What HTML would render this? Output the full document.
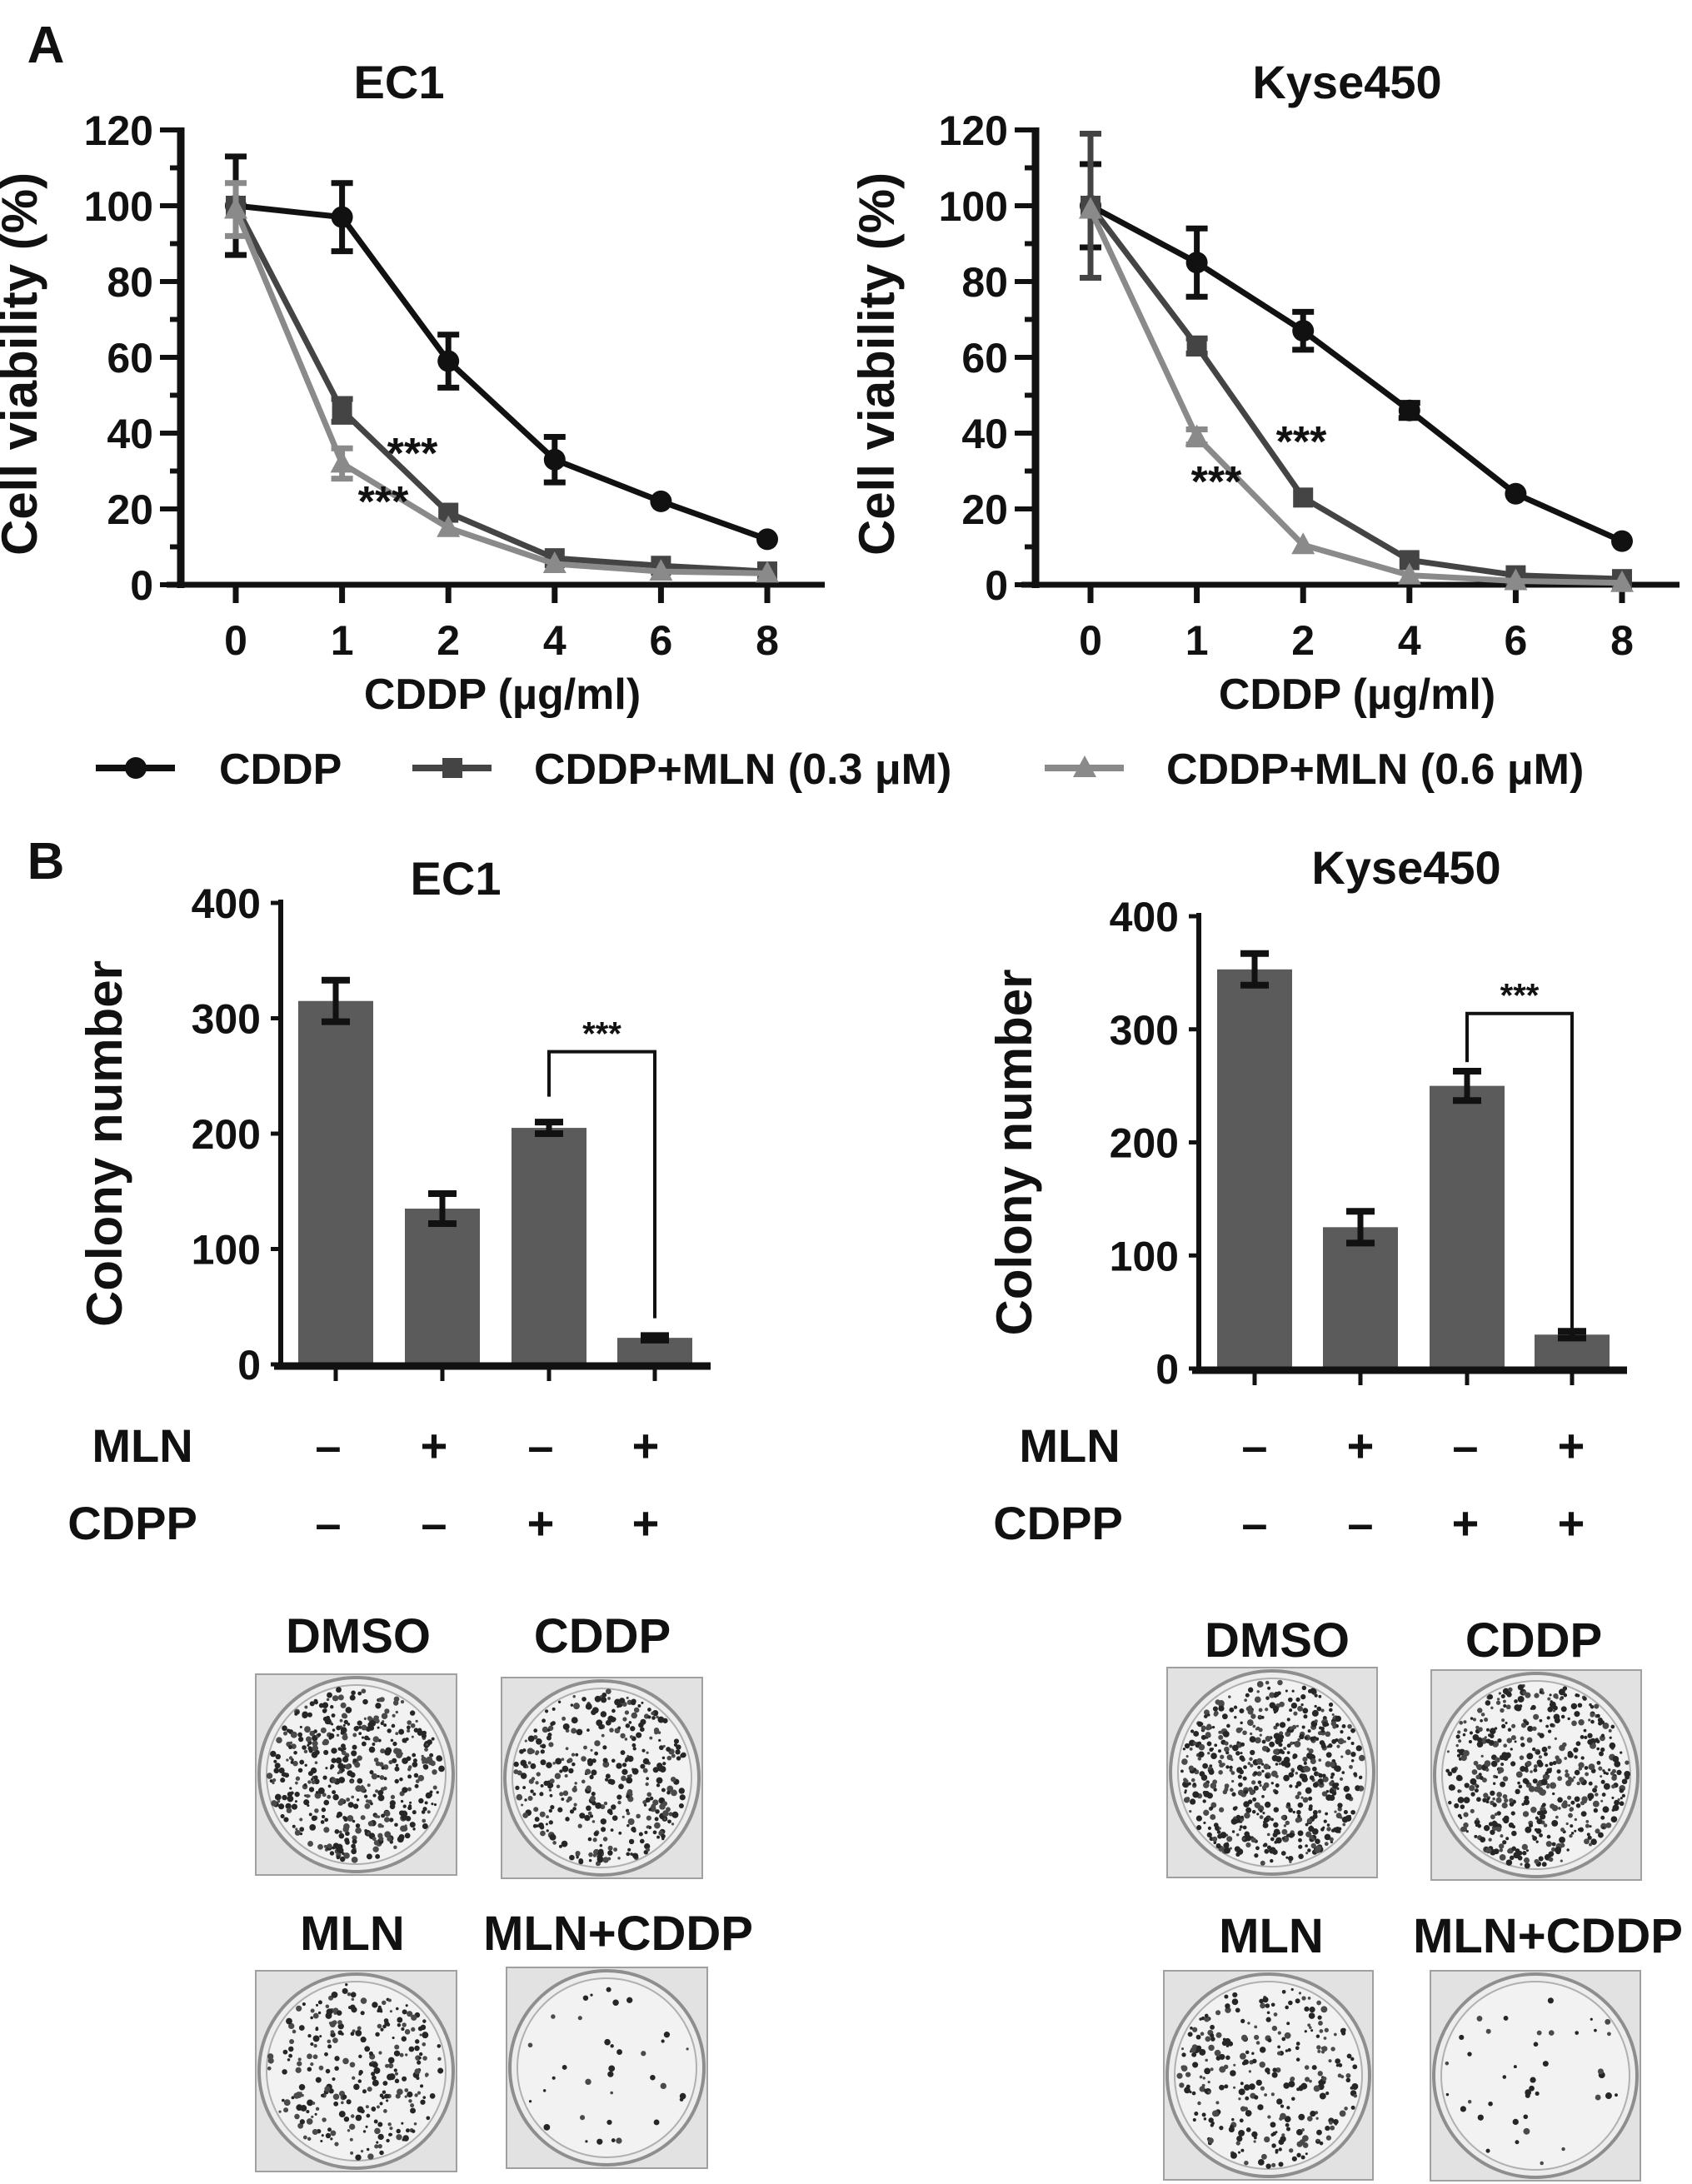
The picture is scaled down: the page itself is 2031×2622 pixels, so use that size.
<!DOCTYPE html>
<html><head><meta charset="utf-8">
<style>
html,body{margin:0;padding:0;background:#fff;}
svg{display:block;}
text{font-family:"Liberation Sans",Arial,sans-serif;font-weight:bold;fill:#111;}
</style></head>
<body>
<svg id="fig" width="2031" height="2622" viewBox="0 0 2031 2622" xmlns="http://www.w3.org/2000/svg">
<text x="55" y="75" font-size="62" text-anchor="middle">A</text>
<text x="55" y="1055" font-size="62" text-anchor="middle">B</text>
<g id="gA1"></g>
<g id="gA2"></g>
<g id="legend"></g>
<g id="gB1"></g>
<g id="gB2"></g>
<g id="plates"></g>
</svg>
<script>
// ---- Panel A data ----
const doseLabels = ["0","1","2","4","6","8"];
const viaTicks = [0,20,40,60,80,100,120];
const ec1Cddp = [100,97,59,33,22,12];
const ec1CddpErr = [13,9,7,6,0,0];
const ec1Mln03 = [100,46,19,7,5,3.5];
const ec1Mln03Err = [0,3,0,0,0,0];
const ec1Mln06 = [99,32,15,5.5,3.5,3];
const ec1Mln06Err = [7,4,0,0,0,0];
const kyCddp = [100,85,67,46,24,11.5];
const kyCddpErr = [11,9,5,2,0,0];
const kyMln03 = [100,63,23,6.5,2.5,1.5];
const kyMln03Err = [19,2,0,0,0,0];
const kyMln06 = [99,39,10.5,2.5,1,0.5];
const kyMln06Err = [0,2,0,0,0,0];
const seriesNames = ["CDDP","CDDP+MLN (0.3 \u03bcM)","CDDP+MLN (0.6 \u03bcM)"];
// ---- Panel B data ----
const mlnRow = ["\u2013","+","\u2013","+"];
const cdppRow = ["\u2013","\u2013","+","+"];
const colTicks = [0,100,200,300,400];
const ec1Colony = [315,135,205,23];
const ec1ColonyErr = [18,13,5,2];
const kyColony = [353,125,250,30];
const kyColonyErr = [14,14,13,3];

const NS="http://www.w3.org/2000/svg";
function mk(parent,tag,attrs){const e=document.createElementNS(NS,tag);for(const k in attrs)e.setAttribute(k,attrs[k]);parent.appendChild(e);return e;}
function txt(parent,x,y,s,size,anchor,extra){const t=mk(parent,'text',Object.assign({x:x,y:y,'font-size':size,'text-anchor':anchor||'middle'},extra||{}));t.textContent=s;return t;}

const colors=["#111111","#444444","#8a8a8a"];

function drawMarker(g,type,x,y,color){
  let m;
  if(type===0){m=mk(g,'circle',{cx:x,cy:y,r:13,fill:color});}
  else if(type===1){m=mk(g,'rect',{x:x-12,y:y-12,width:24,height:24,fill:color});}
  else {m=mk(g,'polygon',{points:`${x},${y-15} ${x+14},${y+11} ${x-14},${y+11}`,fill:color});}
  return m;
}

function viabilityChart(g,ax,title,titleX,yTitleX,series,errs,stars){
  const y0=702,y120=156,xs0=ax+66,dx=127.6,xEnd=ax+773;
  const Y=v=>y0-(v/120)*(y0-y120);
  const X=i=>xs0+i*dx;
  const t=txt(g,titleX,118,title,56);
  
  
  const ya=mk(g,'line',{x1:ax,y1:y120-3,x2:ax,y2:y0+4,stroke:'#111','stroke-width':9});
  
  
  for(let v=0;v<=120;v+=10){
    const major=v%20===0;
    mk(g,'line',{x1:ax-(major?25:13),y1:Y(v),x2:ax,y2:Y(v),stroke:'#111','stroke-width':6});
  }
  viaTicks.forEach(v=>{const l=txt(g,ax-33,Y(v)+18,String(v),50,'end');
    
    });
  const xa=mk(g,'line',{x1:ax-17,y1:y0,x2:xEnd,y2:y0,stroke:'#111','stroke-width':7});
  
  
  doseLabels.forEach((s,i)=>{
    mk(g,'line',{x1:X(i),y1:y0,x2:X(i),y2:y0+22,stroke:'#111','stroke-width':7});
    const l=txt(g,X(i),786,s,50);
    
    
  });
  const xt=txt(g,xs0+320,851,"CDDP (\u00b5g/ml)",52);
  
  
  const yt=txt(g,0,0,"Cell viability (%)",60,'middle',{transform:`translate(${yTitleX},${(y0+y120)/2+8}) rotate(-90)`});
  
  
  series.forEach((vals,si)=>{
    const sg=mk(g,'g',{});
    
    
    const pts=vals.map((v,i)=>X(i)+','+Y(v)).join(' ');
    mk(sg,'polyline',{points:pts,fill:'none',stroke:colors[si],'stroke-width':7,'stroke-linejoin':'round'});
    vals.forEach((v,i)=>{
      const e=errs[si][i];
      if(e>0){
        mk(sg,'line',{x1:X(i),y1:Y(v+e),x2:X(i),y2:Y(v-e),stroke:colors[si],'stroke-width':7});
        mk(sg,'line',{x1:X(i)-13,y1:Y(v+e),x2:X(i)+13,y2:Y(v+e),stroke:colors[si],'stroke-width':7});
        mk(sg,'line',{x1:X(i)-13,y1:Y(v-e),x2:X(i)+13,y2:Y(v-e),stroke:colors[si],'stroke-width':7});
      }
      const m=drawMarker(sg,si,X(i),Y(v),colors[si]);
      
      
    });
  });
  stars.forEach(s=>{const st=txt(g,s[0],s[1],"***",52,'middle',{'font-weight':'normal'});
    
    });
}

viabilityChart(document.getElementById('gA1'),217,"EC1",479,44,[ec1Cddp,ec1Mln03,ec1Mln06],[ec1CddpErr,ec1Mln03Err,ec1Mln06Err],[[495,562],[460,620]]);
viabilityChart(document.getElementById('gA2'),1243,"Kyse450",1617,1073,[kyCddp,kyMln03,kyMln06],[kyCddpErr,kyMln03Err,kyMln06Err],[[1562,548],[1460,596]]);

(function(){
  const g=document.getElementById('legend');
  const items=[[115,263],[495,641],[1254,1400]];
  items.forEach((it,i)=>{
    const eg=mk(g,'g',{});
    
    
    mk(eg,'line',{x1:it[0],y1:922,x2:it[0]+95,y2:922,stroke:colors[i],'stroke-width':8});
    drawMarker(eg,i,it[0]+48,922,colors[i]);
    txt(eg,it[1],941,seriesNames[i],52,'start');
  });
})();

function colonyChart(g,ax,yTop,y0,xRight,centers,vals,errs,title,titleX,titleY,yTitleX,rowLabelX,signXs,bracket){
  const Y=v=>y0-(v/400)*(y0-yTop);
  const t=txt(g,titleX,titleY+20,title,56);
  
  
  vals.forEach((v,i)=>{
    const b=mk(g,'rect',{x:centers[i]-45,y:Y(v),width:90,height:y0-Y(v),fill:'#5b5b5b'});
    
    
    const e=errs[i];
    mk(g,'line',{x1:centers[i],y1:Y(v+e),x2:centers[i],y2:Y(v-e),stroke:'#111','stroke-width':7});
    mk(g,'line',{x1:centers[i]-17,y1:Y(v+e),x2:centers[i]+17,y2:Y(v+e),stroke:'#111','stroke-width':8});
    mk(g,'line',{x1:centers[i]-17,y1:Y(v-e),x2:centers[i]+17,y2:Y(v-e),stroke:'#111','stroke-width':8});
    mk(g,'line',{x1:centers[i],y1:y0,x2:centers[i],y2:y0+20,stroke:'#111','stroke-width':5});
  });
  const ya=mk(g,'line',{x1:ax,y1:yTop-4,x2:ax,y2:y0,stroke:'#111','stroke-width':6});
  
  
  colTicks.forEach(v=>{
    mk(g,'line',{x1:ax-12,y1:Y(v),x2:ax,y2:Y(v),stroke:'#111','stroke-width':5});
    const l=txt(g,ax-24,Y(v)+18,String(v),50,'end');
    
    
  });
  const xa=mk(g,'line',{x1:ax-8,y1:y0+2,x2:xRight,y2:y0+2,stroke:'#111','stroke-width':9});
  
  
  const yt=txt(g,0,0,"Colony number",60,'middle',{transform:`translate(${yTitleX},${(y0+yTop)/2+12}) rotate(-90)`});
  
  
  const [a,bIdx,top,la,lb]=bracket;
  const br=mk(g,'polyline',{points:`${centers[a]},${Y(la)} ${centers[a]},${Y(top)} ${centers[bIdx]},${Y(top)} ${centers[bIdx]},${Y(lb)}`,fill:'none',stroke:'#111','stroke-width':4});
  
  
  const st=txt(g,(centers[a]+centers[bIdx])/2,Y(top)-8,"***",40,'middle',{'font-weight':'normal',fill:'#333'});
  
  
  const r1=txt(g,rowLabelX[0],1755,"MLN",56,'middle');
  
  
  const r2=txt(g,rowLabelX[1],1848,"CDPP",56,'middle');
  
  
  mlnRow.forEach((s,i)=>{const l=txt(g,signXs[i],1755,s,56);
    
    });
  cdppRow.forEach((s,i)=>{const l=txt(g,signXs[i],1848,s,56);
    
    });
}
colonyChart(document.getElementById('gB1'),337,1084,1638,853,[403,531,659,786],ec1Colony,ec1ColonyErr,"EC1",547,1054,146,[171,159],[394,521,649,775],[2,3,271,232,40]);
colonyChart(document.getElementById('gB2'),1439,1100,1643,1953,[1506,1633,1761,1887],kyColony,kyColonyErr,"Kyse450",1688,1041,1238,[1284,1270],[1506,1633,1759,1886],[2,3,314,271,35]);

(function(){
  const g=document.getElementById('plates');
  let seed=12345;
  function rnd(){seed=(seed*1103515245+12345)%2147483648;return seed/2147483648;}
  const plates=[
    ["DMSO",430,1984,307,2010,241,480],["CDDP",723,1984,602,2014,241,380],
    ["MLN",423,2341,307,2366,241,280],["MLN+CDDP",742,2341,608,2362,241,35],
    ["DMSO",1533,1989,1401,2002,252,600],["CDDP",1841,1989,1718,2005,252,520],
    ["MLN",1526,2344,1397,2366,251,300],["MLN+CDDP",1858,2344,1717,2366,252,40]
  ];
  plates.forEach(p=>{
    const [lab,lx,ly,x,y,s,n]=p;
    const pg=mk(g,'g',{});
    
    
    const l=txt(pg,lx,ly,lab,58);
    
    
    mk(pg,'rect',{x:x,y:y,width:s,height:s,fill:'#e2e2e2',stroke:'#a0a0a0','stroke-width':2});
    const cx=x+s/2,cy=y+s/2,r=s/2-4;
    mk(pg,'circle',{cx:cx,cy:cy,r:r,fill:'#ededed',stroke:'#8e8e8e','stroke-width':4});
    mk(pg,'circle',{cx:cx,cy:cy,r:r-9,fill:'#f2f2f2',stroke:'#b0b0b0','stroke-width':2});
    for(let k=0;k<n;k++){
      const a=rnd()*Math.PI*2,d=Math.sqrt(rnd())*(r-12);
      mk(pg,'circle',{cx:cx+Math.cos(a)*d,cy:cy+Math.sin(a)*d,r:1.5+rnd()*2.5,fill:rnd()<0.6?'#262626':'#4a4a4a'});
    }
  });
})();
</script>
</body></html>
